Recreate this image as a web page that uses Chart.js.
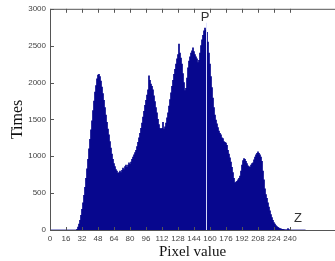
<!DOCTYPE html>
<html>
<head>
<meta charset="utf-8">
<script src="https://cdn.jsdelivr.net/npm/chart.js@4.4.1/dist/chart.umd.min.js"></script>
<style>
  html, body { margin: 0; padding: 0; background: #fff; }
  #wrap { width: 335px; height: 261px; }
</style>
</head>
<body>
<div id="wrap"><canvas id="histChart"></canvas></div>
<script>
// histogram counts per pixel value (0..255)
const counts = [
  0, 0, 0, 0, 0, 0, 0, 0, 0, 0, 0, 0, 0, 0, 0, 0,
  0, 0, 0, 0, 0, 0, 0, 0, 0, 0, 0, 10, 40, 80, 130, 200,
  280, 370, 470, 580, 700, 830, 960, 1100, 1230, 1360, 1480, 1620, 1750, 1870, 1960, 2050,
  2100, 2110, 2080, 2020, 1940, 1850, 1760, 1660, 1560, 1460, 1370, 1290, 1200, 1110, 1030, 960,
  900, 860, 820, 800, 770, 780, 800, 780, 810, 840, 820, 860, 880, 850, 880, 910,
  890, 920, 960, 990, 1020, 1050, 1080, 1130, 1190, 1250, 1310, 1380, 1450, 1530, 1610, 1690,
  1760, 1830, 1900, 2090, 2030, 1980, 1950, 1900, 1820, 1740, 1660, 1590, 1500, 1430, 1380, 1370,
  1380, 1460, 1370, 1400, 1450, 1520, 1590, 1680, 1770, 1860, 1950, 2030, 2110, 2180, 2250, 2320,
  2380, 2520, 2400, 2330, 2250, 2120, 2000, 1890, 1920, 2060, 2200, 2290, 2350, 2400, 2430, 2470,
  2420, 2380, 2350, 2320, 2270, 2300, 2400, 2500, 2580, 2640, 2700, 2740, 2710, 2680, 2550, 2400,
  2250, 2080, 1930, 1790, 1660, 1560, 1490, 1440, 1390, 1340, 1310, 1290, 1250, 1240, 1200, 1190,
  1180, 1150, 1080, 1030, 980, 920, 850, 780, 700, 640, 650, 660, 680, 700, 730, 800,
  880, 940, 970, 960, 930, 900, 870, 860, 850, 880, 900, 910, 950, 990, 1020, 1040,
  1060, 1040, 1020, 990, 930, 800, 680, 560, 480, 430, 370, 310, 260, 210, 170, 130,
  100, 80, 60, 45, 35, 25, 20, 15, 10, 8, 5, 3, 2, 2, 20, 5,
  0, 0, 0, 0, 0, 0, 0, 0, 0, 0, 0, 0, 0, 0, 0, 0
];
// x axis runs a bit past the data (figure is cut at the right)
const xMax = 285;
const xTicks = [0, 16, 32, 48, 64, 80, 96, 112, 128, 144, 160, 176, 192, 208, 224, 240];
const yTicks = [0, 500, 1000, 1500, 2000, 2500, 3000];
const markP = 156;
const markZ = 248;

const labels = [];
for (let i = 0; i <= xMax; i++) labels.push(String(i));

const axisColor = '#555';
const textColor = '#444';

const framePlugin = {
  id: 'frame',
  afterDatasetsDraw(chart) {
    const { ctx, chartArea: a, scales: { x, y } } = chart;
    ctx.save();
    // white marker line through the histogram
    const px = Math.round(x.getPixelForValue(markP)) + 0.5;
    ctx.strokeStyle = 'rgba(225,228,255,0.95)';
    ctx.lineWidth = 1;
    ctx.beginPath();
    ctx.moveTo(px, a.top + 14);
    ctx.lineTo(px, a.bottom);
    ctx.stroke();

    // frame (top, left, bottom)
    ctx.strokeStyle = axisColor;
    ctx.beginPath();
    ctx.moveTo(a.left + 0.5, a.bottom + 0.5);
    ctx.lineTo(a.left + 0.5, a.top + 0.5);
    ctx.lineTo(a.right, a.top + 0.5);
    ctx.moveTo(a.left, a.bottom + 0.5);
    ctx.lineTo(a.right, a.bottom + 0.5);
    ctx.stroke();

    // inward tick marks
    ctx.beginPath();
    yTicks.forEach(v => {
      const py = Math.round(y.getPixelForValue(v)) + 0.5;
      ctx.moveTo(a.left, py);
      ctx.lineTo(a.left + 4, py);
    });
    xTicks.forEach(v => {
      const tx = Math.round(x.getPixelForValue(v)) + 0.5;
      ctx.moveTo(tx, a.bottom);
      ctx.lineTo(tx, a.bottom - 3);
      ctx.moveTo(tx, a.top);
      ctx.lineTo(tx, a.top + 4);
    });
    ctx.stroke();

    // letters P and Z
    ctx.fillStyle = '#333';
    ctx.font = '13px "Liberation Sans", Arial, sans-serif';
    ctx.textAlign = 'center';
    ctx.textBaseline = 'middle';
    ctx.fillText('P', x.getPixelForValue(markP) - 1, a.top + 9);
    ctx.fillText('Z', x.getPixelForValue(markZ), a.bottom - 12);
    ctx.restore();
  }
};

new Chart(document.getElementById('histChart'), {
  type: 'bar',
  data: {
    labels,
    datasets: [{
      data: counts,
      backgroundColor: '#00008c',
      borderWidth: 0,
      barPercentage: 1,
      categoryPercentage: 1
    }]
  },
  options: {
    responsive: true,
    maintainAspectRatio: false,
    animation: false,
    layout: { padding: { top: 7, right: 0, left: 0, bottom: 0 } },
    plugins: { legend: { display: false }, tooltip: { enabled: false } },
    scales: {
      x: {
        offset: false,
        grid: { display: false, drawTicks: false },
        border: { display: false },
        ticks: {
          autoSkip: false,
          maxRotation: 0,
          padding: 4,
          color: textColor,
          font: { family: '"Liberation Sans", Arial, sans-serif', size: 8 },
          callback(value) {
            const v = Number(this.getLabelForValue(value));
            return xTicks.includes(v) ? String(v) : null;
          }
        },
        title: {
          display: true,
          text: 'Pixel value',
          color: '#111',
          font: { family: '"Liberation Serif", "Times New Roman", serif', size: 15 },
          padding: { top: 0, bottom: 0 }
        },
        afterFit(scale) { scale.height = 31; }
      },
      y: {
        min: 0,
        max: 3000,
        grid: { display: false, drawTicks: false },
        border: { display: false },
        ticks: {
          stepSize: 500,
          padding: 4,
          color: textColor,
          font: { family: '"Liberation Sans", Arial, sans-serif', size: 8 },
          callback: value => String(value)
        },
        title: {
          display: true,
          text: 'Times',
          color: '#111',
          font: { family: '"Liberation Serif", "Times New Roman", serif', size: 16 },
          padding: { top: 8, bottom: 0 }
        },
        afterFit(scale) { scale.width = 50; }
      }
    }
  },
  plugins: [framePlugin]
});
</script>
</body>
</html>
